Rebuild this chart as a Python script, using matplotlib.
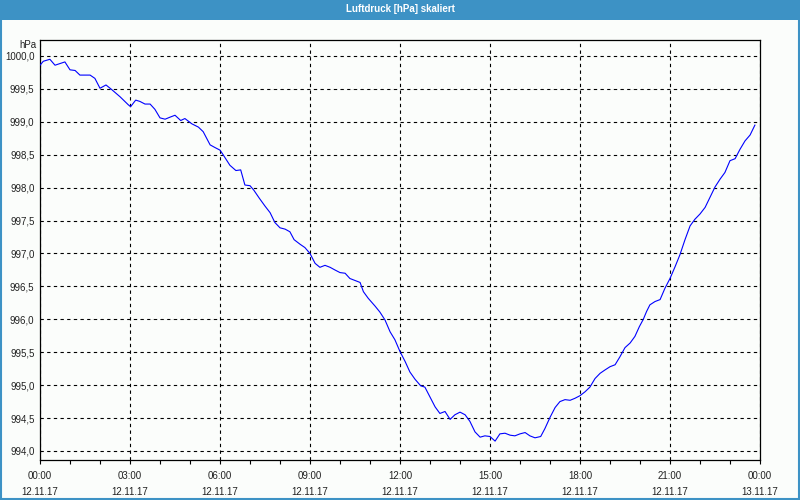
import numpy as np
import matplotlib
matplotlib.use("Agg")
import matplotlib.pyplot as plt
from matplotlib.patches import Rectangle
from matplotlib.ticker import MultipleLocator, FixedLocator

plt.rcParams["font.family"] = ["Liberation Sans", "DejaVu Sans"]

# Stunden seit 12.11.17 00:00
stunden = [0.0, 0.11, 0.33, 0.5, 0.83, 1.0, 1.17, 1.33, 1.67, 1.83, 2.0, 2.2, 2.39, 2.67,
           2.94, 3.02, 3.19, 3.33, 3.5, 3.67, 3.83, 4.0, 4.17, 4.33, 4.5, 4.69, 4.83, 5.06,
           5.28, 5.44, 5.67, 5.83, 6.0, 6.09, 6.33, 6.53, 6.69, 6.83, 7.0, 7.13, 7.31, 7.5,
           7.67, 7.83, 8.0, 8.17, 8.33, 8.47, 8.67, 8.83, 9.0, 9.17, 9.33, 9.5, 9.67, 9.83,
           10.0, 10.17, 10.33, 10.5, 10.67, 10.78, 10.94, 11.17, 11.33, 11.5, 11.67, 11.83,
           12.0, 12.17, 12.33, 12.5, 12.69, 12.83, 13.0, 13.17, 13.33, 13.5, 13.67, 13.83,
           14.0, 14.17, 14.33, 14.5, 14.67, 14.83, 15.0, 15.17, 15.33, 15.5, 15.67, 15.83,
           16.0, 16.17, 16.33, 16.5, 16.69, 16.83, 17.0, 17.17, 17.33, 17.5, 17.67, 17.83,
           18.0, 18.17, 18.33, 18.5, 18.67, 18.83, 19.0, 19.17, 19.33, 19.5, 19.67, 19.83,
           19.98, 20.11, 20.22, 20.33, 20.5, 20.67, 20.83, 21.0, 21.17, 21.33, 21.5, 21.67,
           21.83, 22.0, 22.17, 22.33, 22.5, 22.67, 22.83, 23.0, 23.17, 23.33, 23.5, 23.67,
           23.83]
druck = [999.86, 999.92, 999.95, 999.86, 999.91, 999.79, 999.78, 999.71, 999.71, 999.66,
         999.51, 999.56, 999.49, 999.38, 999.26, 999.23, 999.33, 999.31, 999.27, 999.27,
         999.19, 999.06, 999.04, 999.07, 999.10, 999.02, 999.05, 998.97, 998.92, 998.85,
         998.65, 998.61, 998.57, 998.51, 998.34, 998.26, 998.27, 998.04, 998.03, 997.96,
         997.84, 997.72, 997.62, 997.47, 997.39, 997.37, 997.33, 997.21, 997.14, 997.09,
         997.00, 996.85, 996.79, 996.82, 996.79, 996.75, 996.71, 996.70, 996.62, 996.59,
         996.56, 996.42, 996.32, 996.20, 996.11, 995.99, 995.81, 995.69, 995.51, 995.36,
         995.20, 995.09, 994.99, 994.97, 994.82, 994.67, 994.57, 994.60, 994.48, 994.55,
         994.59, 994.55, 994.45, 994.29, 994.21, 994.23, 994.22, 994.15, 994.26, 994.27,
         994.24, 994.23, 994.26, 994.28, 994.23, 994.20, 994.22, 994.34, 994.51, 994.66,
         994.75, 994.78, 994.77, 994.80, 994.84, 994.90, 994.97, 995.10, 995.18, 995.23,
         995.28, 995.31, 995.43, 995.57, 995.64, 995.74, 995.89, 996.00, 996.12, 996.22,
         996.27, 996.30, 996.47, 996.62, 996.80, 996.98, 997.21, 997.42, 997.52, 997.60,
         997.70, 997.85, 998.01, 998.13, 998.23, 998.41, 998.44, 998.58, 998.71, 998.80,
         998.95]

xticks = [0, 3, 6, 9, 12, 15, 18, 21, 24]
xlabels = ["00:00\n12.11.17", "03:00\n12.11.17", "06:00\n12.11.17", "09:00\n12.11.17",
           "12:00\n12.11.17", "15:00\n12.11.17", "18:00\n12.11.17", "21:00\n12.11.17",
           "00:00\n13.11.17"]
yticks = [994.0, 994.5, 995.0, 995.5, 996.0, 996.5, 997.0, 997.5, 998.0, 998.5, 999.0, 999.5, 1000.0]

bg = "#fbfdfb"
blau = "#3d92c5"

fig = plt.figure(figsize=(8, 5), dpi=100, facecolor=bg)
ax = fig.add_axes([0.05, 0.08, 0.9, 0.84], facecolor=bg)

# Titelleiste + Rahmen
fig.patches.append(Rectangle((0, 0.96), 1, 0.04, transform=fig.transFigure,
                             facecolor=blau, edgecolor="none", zorder=0))
fig.patches.append(Rectangle((0.001, 0.002), 0.998, 0.996, transform=fig.transFigure,
                             facecolor="none", edgecolor=blau, linewidth=1.5, zorder=5))
fig.text(0.5, 0.981, "Luftdruck [hPa] skaliert", color="white", fontsize=7,
         fontweight="bold", ha="center", va="center")

ax.plot(stunden, druck, color="#0000ff", linewidth=0.8, zorder=3)

ax.set_xlim(0, 24)
ax.set_ylim(993.863, 1000.243)
ax.xaxis.set_major_locator(FixedLocator(xticks))
ax.set_xticklabels(xlabels, fontsize=7, linespacing=1.7, color="#222222")
ax.xaxis.set_minor_locator(MultipleLocator(1))
ax.set_yticks(yticks)
ax.set_yticklabels([("%.1f" % v).replace(".", ",") for v in yticks], fontsize=7,
                   color="#222222")

ax.tick_params(axis="x", which="both", direction="out", length=3, width=0.8, pad=5)
ax.tick_params(axis="y", length=0, pad=4)
ax.grid(True, which="major", color="black", linestyle=(0, (3, 3)), linewidth=0.8)
for s in ax.spines.values():
    s.set_linewidth(0.9)

ax.text(-0.005, 1000.243 - 0.07, "hPa", transform=ax.get_yaxis_transform(),
        ha="right", va="center", fontsize=7, color="#222222")

fig.savefig("out.png", dpi=100, facecolor=bg)
